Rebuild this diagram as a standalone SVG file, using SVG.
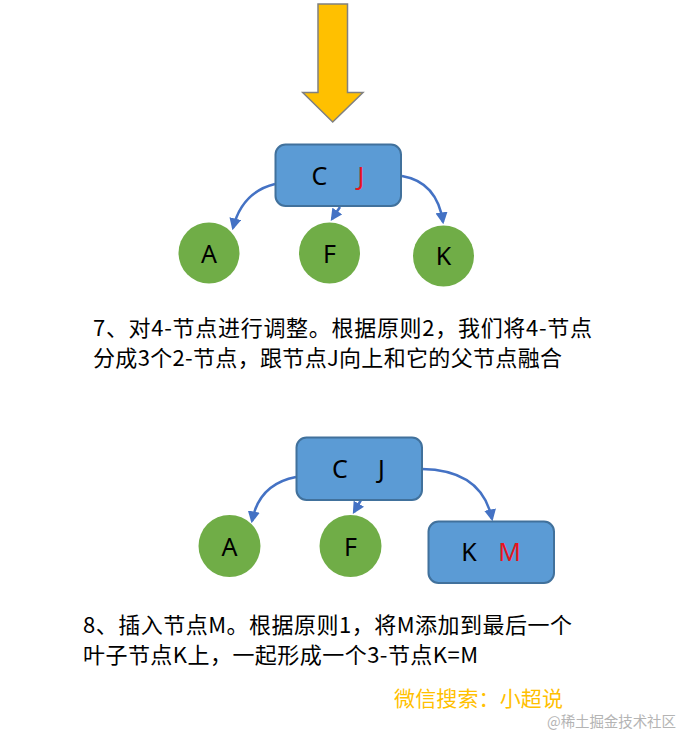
<svg xmlns="http://www.w3.org/2000/svg" width="697" height="749" viewBox="0 0 697 749">
<defs>
<style>
.box{fill:#5B9BD5;stroke:#41719C;stroke-width:2}
.leaf{fill:#70AD47}
.lbl{font-family:"Noto Sans","Liberation Sans",sans-serif;font-size:25px;fill:#000;text-anchor:middle}
.red{fill:#E8141C}
.edge{fill:none;stroke:#4472C4;stroke-width:2.5;marker-end:url(#ah)}
.cap{font-family:"Noto Sans CJK SC","Noto Sans",sans-serif;font-size:22px;fill:#000}
</style>
<marker id="ah" markerUnits="userSpaceOnUse" markerWidth="12" markerHeight="12" viewBox="0 0 10 10" refX="8" refY="5" orient="auto">
<path d="M0,0 L10,5 L0,10 z" fill="#4472C4"/>
</marker>
</defs>
<rect width="697" height="749" fill="#fff"/>
<g id="bigarrow">
<path d="M318,4 L347.5,4 L347.5,92.5 L363,92.5 L332.7,122 L302.7,92.5 L318,92.5 z" fill="#FFC000" stroke="#808080" stroke-width="1.5"/>
</g>
<g id="connectors">
<path class="edge" d="M275,184 Q242,192 233,228"/>
<path class="edge" d="M340,207 L332,219"/>
<path class="edge" d="M402,176 Q437,182 443,222"/>
<path class="edge" d="M296,477 Q259,484 252,521"/>
<path class="edge" d="M361,500 L354,512"/>
<path class="edge" d="M422,469 Q482,470 492,519"/>
</g>
<g id="node-CJ1">
<rect class="box" x="275.5" y="144.5" width="125.5" height="61.5" rx="10"/>
<text class="lbl" x="319.5" y="185">C</text>
<text class="lbl red" x="361" y="185">J</text>
</g>
<g id="node-A1"><circle class="leaf" cx="209" cy="253" r="30.5"/><text class="lbl" x="209" y="263">A</text></g>
<g id="node-F1"><circle class="leaf" cx="329.5" cy="253" r="30.5"/><text class="lbl" x="329.5" y="263">F</text></g>
<g id="node-K1"><circle class="leaf" cx="443.5" cy="256" r="30.5"/><text class="lbl" x="443.5" y="265">K</text></g>
<g id="caption1">
<text class="cap" x="93" y="336" textLength="499" lengthAdjust="spacing">7、对4-节点进行调整。根据原则2，我们将4-节点</text>
<text class="cap" x="93" y="366" textLength="469" lengthAdjust="spacing">分成3个2-节点，跟节点J向上和它的父节点融合</text>
</g>
<g id="node-CJ2">
<rect class="box" x="296.5" y="437.5" width="125.5" height="62.5" rx="10"/>
<text class="lbl" x="340" y="478">C</text>
<text class="lbl" x="381.5" y="478">J</text>
</g>
<g id="node-A2"><circle class="leaf" cx="229.5" cy="546" r="31"/><text class="lbl" x="229.5" y="556">A</text></g>
<g id="node-F2"><circle class="leaf" cx="350.5" cy="546" r="31"/><text class="lbl" x="350.5" y="556">F</text></g>
<g id="node-KM">
<rect class="box" x="428.5" y="521.5" width="125.5" height="61.5" rx="10"/>
<text class="lbl" x="469" y="561">K</text>
<text class="lbl red" x="509.5" y="561">M</text>
</g>
<g id="caption2">
<text class="cap" x="83" y="633" textLength="489" lengthAdjust="spacing">8、插入节点M。根据原则1，将M添加到最后一个</text>
<text class="cap" x="83" y="663" textLength="395" lengthAdjust="spacing">叶子节点K上，一起形成一个3-节点K=M</text>
</g>
<text x="394" y="706" font-family="Noto Sans CJK SC,sans-serif" font-size="21" fill="#FFC000" textLength="169" lengthAdjust="spacing">微信搜索：小超说</text>
<text x="547" y="727" font-family="Noto Sans CJK SC,sans-serif" font-size="14.5" fill="#B4B4B4" textLength="129" lengthAdjust="spacing">@稀土掘金技术社区</text>
</svg>
